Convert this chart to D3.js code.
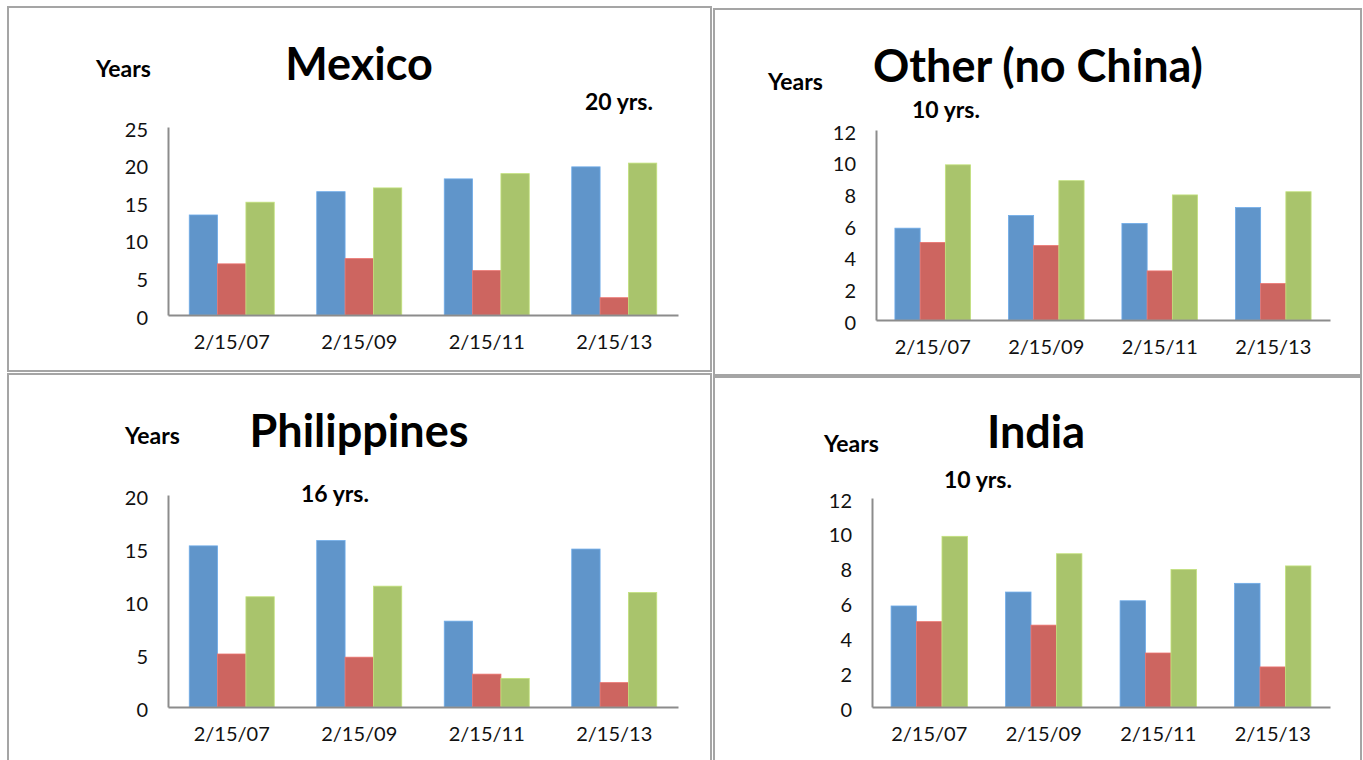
<!DOCTYPE html>
<html>
<head>
<meta charset="utf-8">
<script src="https://cdn.jsdelivr.net/npm/d3@7"></script>
<style>
  body { margin: 0; background: #fff; }
  svg { display: block; font-family: Lato, "Open Sans", sans-serif; }
</style>
</head>
<body>
<svg id="chart" width="1363" height="760"></svg>
<script>
// categories shared by all four charts
var dates = ["2/15/07", "2/15/09", "2/15/11", "2/15/13"];

// series values (years)
var mexicoBlue  = [13.3, 16.4, 18.1, 19.7];
var mexicoRed   = [6.8, 7.5, 5.9, 2.3];
var mexicoGreen = [15.0, 16.9, 18.8, 20.2];

var otherBlue  = [5.8, 6.6, 6.1, 7.1];
var otherRed   = [4.9, 4.7, 3.1, 2.3];
var otherGreen = [9.8, 8.8, 7.9, 8.1];

var philBlue  = [15.2, 15.7, 8.1, 14.9];
var philRed   = [5.0, 4.7, 3.1, 2.3];
var philGreen = [10.4, 11.4, 2.7, 10.8];

var indiaBlue  = [5.8, 6.6, 6.1, 7.1];
var indiaRed   = [4.9, 4.7, 3.1, 2.3];
var indiaGreen = [9.8, 8.8, 7.9, 8.1];

// y tick labels
var ticks25 = [0, 5, 10, 15, 20, 25];
var ticks20 = [0, 5, 10, 15, 20];
var ticks12 = [0, 2, 4, 6, 8, 10, 12];

var colors = ["#6095ca", "#cd6560", "#a9c46c"];

// layout of each panel (frame, plot area, text spots)
var panels = [
  { title: "Mexico", note: "20 yrs.", series: [mexicoBlue, mexicoRed, mexicoGreen], ticks: ticks25,
    frame: [8, 7, 703, 364], plot: [168, 678, 127, 315],
    titleXY: [359, 80], yearsXY: [96, 77], noteXY: [585, 110] },
  { title: "Other (no China)", note: "10 yrs.", series: [otherBlue, otherRed, otherGreen], ticks: ticks12,
    frame: [714, 9, 647, 366], plot: [876, 1330, 130, 320],
    titleXY: [1038, 82], yearsXY: [768, 90], noteXY: [912, 118] },
  { title: "Philippines", note: "16 yrs.", series: [philBlue, philRed, philGreen], ticks: ticks20,
    frame: [8, 374, 703, 400], plot: [168, 678, 495, 707],
    titleXY: [359, 447], yearsXY: [125, 444], noteXY: [301, 502] },
  { title: "India", note: "10 yrs.", series: [indiaBlue, indiaRed, indiaGreen], ticks: ticks12,
    frame: [714, 377, 647, 400], plot: [872, 1330, 498, 707],
    titleXY: [1036, 448], yearsXY: [824, 452], noteXY: [944, 488] }
];

var svg = d3.select("#chart");

panels.forEach(function(p) {
  var g = svg.append("g");

  // frame
  g.append("rect")
    .attr("x", p.frame[0]).attr("y", p.frame[1])
    .attr("width", p.frame[2]).attr("height", p.frame[3])
    .attr("fill", "none")
    .attr("stroke", "#a5a5a5")
    .attr("stroke-width", 2);

  var x = d3.scaleBand()
    .domain(dates)
    .range([p.plot[0], p.plot[1]])
    .paddingInner(1 / 3)
    .paddingOuter(1 / 6);

  var xs = d3.scaleBand()
    .domain([0, 1, 2])
    .range([0, x.bandwidth()]);

  var y = d3.scaleLinear()
    .domain([0, d3.max(p.ticks)])
    .range([p.plot[3], p.plot[2]]);

  // bars
  p.series.forEach(function(vals, si) {
    g.selectAll(null)
      .data(vals)
      .enter().append("rect")
      .attr("x", function(d, i) { return x(dates[i]) + xs(si); })
      .attr("y", function(d) { return y(d); })
      .attr("width", xs.bandwidth())
      .attr("height", function(d) { return y(0) - y(d); })
      .attr("fill", colors[si])
      .attr("stroke", d3.color(colors[si]).brighter(0.4))
      .attr("stroke-width", 0.8);
  });

  // y axis
  var ya = g.append("g")
    .attr("transform", "translate(" + p.plot[0] + ",0)")
    .call(d3.axisLeft(y).tickValues(p.ticks).tickSize(0).tickPadding(20));
  ya.select(".domain").attr("stroke", "#8c8c8c").attr("stroke-width", 2);
  ya.selectAll("text").attr("font-size", 20).attr("fill", "#111").attr("font-family", "Lato").attr("dy", "0.45em");

  // x axis
  var xa = g.append("g")
    .attr("transform", "translate(0," + p.plot[3] + ")")
    .call(d3.axisBottom(x).tickSize(0).tickSizeOuter(0).tickPadding(20));
  xa.select(".domain").attr("stroke", "#8c8c8c").attr("stroke-width", 2);
  xa.selectAll("text").attr("font-size", 20).attr("fill", "#111").attr("font-family", "Lato");

  // titles and notes
  g.append("text")
    .attr("x", p.titleXY[0]).attr("y", p.titleXY[1])
    .attr("text-anchor", "middle")
    .attr("font-size", 45).attr("font-weight", "bold")
    .text(p.title);

  g.append("text")
    .attr("x", p.yearsXY[0]).attr("y", p.yearsXY[1])
    .attr("font-size", 23).attr("font-weight", "bold")
    .text("Years");

  g.append("text")
    .attr("x", p.noteXY[0]).attr("y", p.noteXY[1])
    .attr("font-size", 23).attr("font-weight", "bold")
    .text(p.note);
});
</script>
</body>
</html>
